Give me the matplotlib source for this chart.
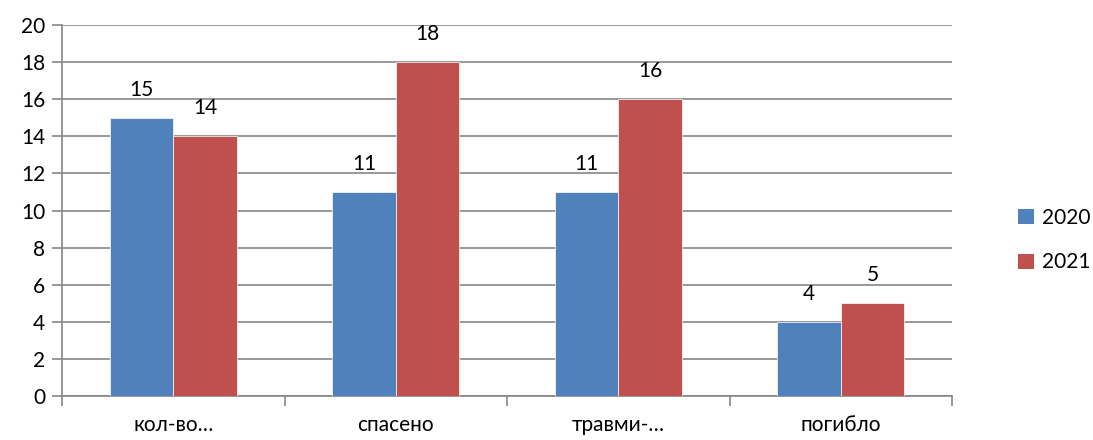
import matplotlib
matplotlib.use("Agg")
import matplotlib.pyplot as plt
import numpy as np
from matplotlib.patches import Patch

categories = ["кол-во…", "спасено", "травми-…", "погибло"]
series_names = ["2020", "2021"]
values_2020 = [15, 11, 11, 4]
values_2021 = [14, 18, 16, 5]
colors = ["#4F81BD", "#C0504D"]

plt.rcParams['font.family'] = ['Lato', 'DejaVu Sans']
FS = 15

fig = plt.figure(figsize=(10.93, 4.40), dpi=100)
ax = fig.add_axes([62/1093, 1-396/440, (952-62)/1093, (396-25)/440])

x = np.arange(len(categories))
w = 0.285
for i, (vals, c) in enumerate(zip([values_2020, values_2021], colors)):
    pos = x + (i - 0.5) * w
    ax.bar(pos, vals, width=w, color=c, zorder=3, edgecolor='white', linewidth=0.5)
    for p, v in zip(pos, vals):
        ax.annotate(str(v), (p, v), xytext=(0, 13), textcoords='offset points',
                    ha='center', va='bottom', fontsize=FS)

ax.set_xlim(-0.5, len(categories) - 0.5)
ax.set_ylim(0, 20)
ax.set_yticks(range(0, 21, 2))
ax.yaxis.grid(True, color='#868686', linewidth=1.2, zorder=0)
ax.set_axisbelow(True)
for s in ['top', 'right']:
    ax.spines[s].set_visible(False)
for s in ['left', 'bottom']:
    ax.spines[s].set_color('#868686')
    ax.spines[s].set_linewidth(1.2)
ax.tick_params(axis='y', length=7, color='#868686', width=1.2, labelsize=FS, pad=5)
ax.set_xticks(np.arange(-0.5, len(categories)), minor=False)
ax.set_xticklabels([])
ax.tick_params(axis='x', which='major', length=7, color='#868686', width=1.2)
ax.set_xticks(x, minor=True)
ax.set_xticklabels(categories, minor=True)
ax.tick_params(axis='x', which='minor', length=0, labelsize=FS, pad=14)

handles = [Patch(facecolor=c, label=n) for c, n in zip(colors, series_names)]
fig.legend(handles=handles, loc='center left', bbox_to_anchor=(1008/1093, 1-240/440),
           frameon=False, fontsize=FS, handlelength=0.75, handleheight=0.75,
           handletextpad=0.4, labelspacing=1.2, borderpad=0)

fig.savefig("out.png", dpi=100)
